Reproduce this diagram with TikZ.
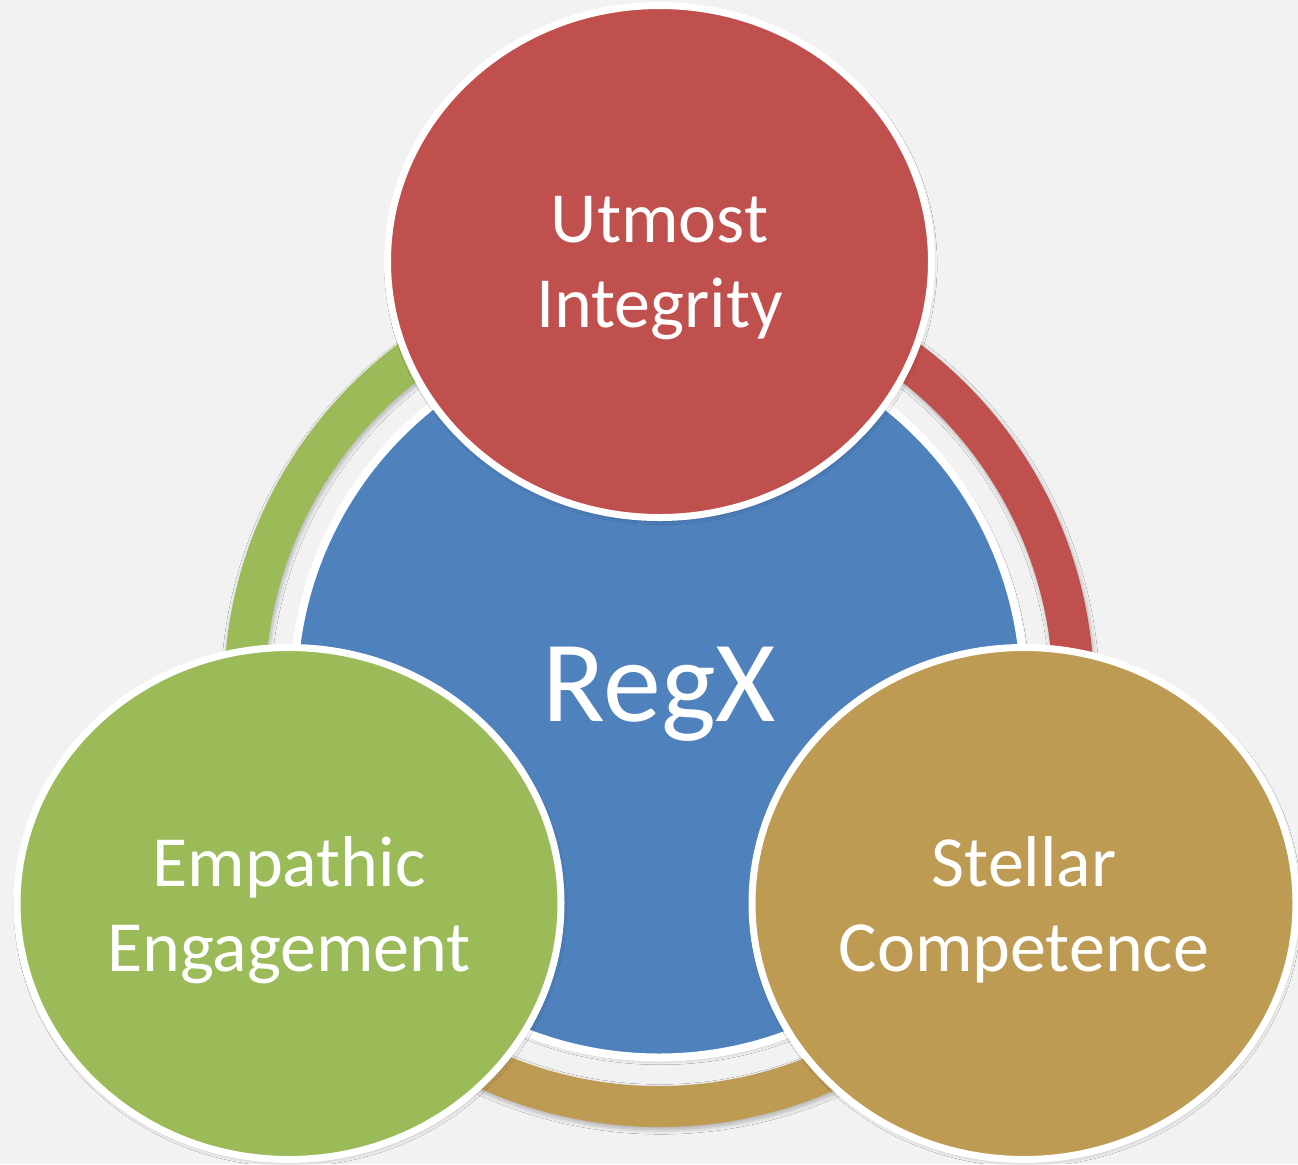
\documentclass[tikz,border=0pt]{standalone}
\usepackage{fontspec}
\setmainfont{Carlito}
\usetikzlibrary{shapes.geometric,shadows.blur,calc}
\definecolor{bg}{HTML}{F2F2F2}
\definecolor{cblue}{HTML}{4F81BD}
\definecolor{cred}{HTML}{C0504D}
\definecolor{cgreen}{HTML}{9BBB59}
\definecolor{cgold}{HTML}{BE9B53}
\begin{document}
\begin{tikzpicture}[x=0.5pt,y=-0.5pt,
  softshadow/.style={blur shadow={shadow xshift=0.6pt, shadow yshift=-1.4pt, shadow blur radius=2.2pt, shadow opacity=28, shadow blur steps=10}},
  bubble/.style={ellipse, draw=white, line width=3.5pt, minimum width=272pt, minimum height=256pt,
    inner sep=0pt, text=white, align=center, font=\fontsize{36}{42.5}\selectfont, text depth=0pt, softshadow},
  core/.style={circle, draw=white, line width=4pt, fill=cblue, minimum size=365.5pt, inner sep=0pt,
    text=white, font=\fontsize{58}{60}\selectfont, text height=29pt, text depth=0pt, softshadow}
  ]
\fill[bg] (0,0) rectangle (1298,1164);
\useasboundingbox (0,0) rectangle (1298,1164);
\coordinate (c) at (659,692);
% outer ring segments
\foreach \a/\b/\col in {90/210/cgreen, 210/330/cgold, -30/90/cred} {
  \fill[\col, softshadow] ([shift={(\a:217.5pt)}]c) arc[start angle=\a, end angle=\b, radius=217.5pt]
    -- ([shift={(\b:197pt)}]c) arc[start angle=\b, end angle=\a, radius=197pt] -- cycle;
}
% central circle
\node[core] (regx) at (c) {RegX};
% satellites
\node[bubble, fill=cred]   (integrity)  at (659.5,261.5) {Utmost\\Integrity};
\node[bubble, fill=cgreen] (empathic)   at (289,903.5)   {Empathic\\Engagement};
\node[bubble, fill=cgold]  (competence) at (1024,903.5)  {Stellar\\Competence};
\end{tikzpicture}
\end{document}
